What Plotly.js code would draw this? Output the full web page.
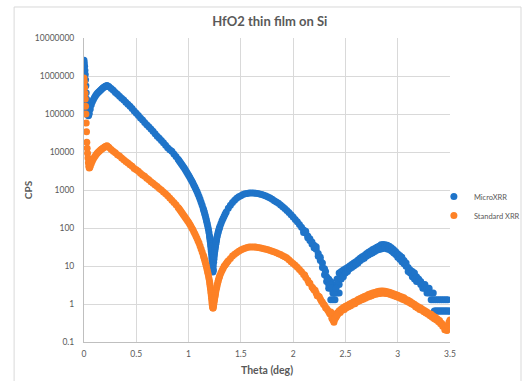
<!DOCTYPE html>
<html>
<head>
<meta charset="utf-8">
<script src="https://cdn.plot.ly/plotly-3.0.1.min.js"></script>
<style>html,body{margin:0;padding:0;background:#fff;}#chart{width:528px;height:381px;}</style>
</head>
<body>
<div id="chart"></div>
<script>
// ---- Data (theta in deg, intensity in CPS) ----
const seriesNames = ["MicroXRR", "Standard XRR"];

const microTheta = [
  0.000,0.003,0.006,0.009,0.012,0.015,0.018,0.021,0.024,0.027,0.030,0.034,0.038,0.042,0.046,0.050,
  0.06,0.07,0.08,0.09,0.10,0.11,0.12,0.13,0.14,0.15,0.16,0.17,0.18,0.19,0.20,0.21,0.22,0.23,
  0.24,0.26,0.28,0.30,0.32,0.34,0.36,0.38,0.40,0.42,0.44,0.46,0.48,0.50,0.52,0.54,0.56,0.58,0.60,0.62,0.64,0.66,0.68,0.70,0.72,0.74,0.76,0.78,0.80,0.82,0.84,0.86,0.88,
  0.90,0.91,0.92,0.93,0.94,0.95,0.96,0.97,0.98,0.99,1.00,1.01,1.02,1.03,1.04,1.05,1.06,1.07,1.08,1.09,1.10,1.11,1.12,1.13,1.14,
  1.145,1.15,1.155,1.16,1.165,1.17,1.175,1.18,1.185,1.19,1.195,1.20,
  1.2025,1.205,1.2075,1.21,1.2125,1.215,1.2175,1.22,1.2225,1.225,1.2275,1.23,1.233,1.236,1.238,1.24,
  1.2425,1.245,1.2475,1.25,1.2525,1.255,1.2575,1.26,1.2625,1.265,1.2675,1.27,1.275,1.28,1.285,1.29,1.295,1.30,
  1.31,1.32,1.33,1.34,1.35,1.36,
  1.38,1.40,1.42,1.44,1.46,1.48,1.50,1.52,1.54,1.56,1.58,1.60,1.62,1.64,1.66,1.68,1.70,1.72,1.74,1.76,1.78,1.80,1.82,1.84,1.86,1.88,1.90,1.92,1.94,1.96,1.98,2.00,2.02,2.04,2.06,2.08,
  2.10,2.10,2.12,2.12,2.14,2.14,2.16,2.16,2.18,2.18,2.20,2.20,2.22,2.22,2.24,2.24,
  2.26,2.26,2.28,2.28,2.30,2.30,2.32,2.32,2.34,2.34,2.34,2.36,2.36,2.36,2.38,2.38,2.38,2.40,2.40,2.40,2.42,2.42,2.42,2.44,2.44,2.44,
  2.31,2.33,2.35,2.37,2.39,2.41,2.43,2.45,2.47,
  2.46,2.46,2.48,2.48,2.50,2.50,2.52,2.52,2.54,2.54,2.56,2.56,2.58,2.58,2.60,2.60,2.62,2.62,2.64,2.64,
  2.66,2.66,2.68,2.68,2.70,2.70,2.72,2.72,2.74,2.74,2.76,2.76,2.78,2.78,2.80,2.80,2.82,2.82,2.84,2.84,
  2.86,2.86,2.88,2.88,2.90,2.90,2.92,2.92,2.94,2.94,2.96,2.96,2.98,2.98,3.00,3.00,3.02,3.02,3.04,3.04,
  3.06,3.06,3.08,3.08,
  3.10,3.10,3.12,3.12,3.14,3.14,3.16,3.16,3.18,3.18,3.20,3.20,3.22,3.22,3.24,3.24,3.26,3.26,3.28,3.28,
  3.30,3.30,3.32,3.32,3.34,3.34,
  3.36,3.36,3.38,3.38,3.40,3.40,3.42,3.42,3.44,3.44,3.46,3.46,3.48,3.48,3.50,
  3.35,3.37,3.39,3.41,3.43,3.45,3.47,3.49
];
const microCps = [
  2.6e6,2.2e6,1.8e6,1.4e6,1.1e6,8.0e5,5.5e5,3.6e5,2.5e5,1.8e5,1.4e5,1.15e5,9.5e4,9.0e4,9.5e4,1.05e5,
  1.35e5,1.75e5,2.1e5,2.4e5,2.7e5,3.0e5,3.3e5,3.55e5,3.8e5,4.05e5,4.3e5,4.55e5,4.8e5,5.05e5,5.3e5,5.45e5,5.6e5,5.4e5,
  5.25e5,4.7e5,4.2e5,3.7e5,3.3e5,2.95e5,2.6e5,2.35e5,2.05e5,1.8e5,1.6e5,1.4e5,1.2e5,1.05e5,9.1e4,7.9e4,6.9e4,6.0e4,5.2e4,4.6e4,4.0e4,3.5e4,3.0e4,2.6e4,2.3e4,2.0e4,1.74e4,1.5e4,1.3e4,1.15e4,1.05e4,8900,7600,
  6460,5890,5370,4900,4470,4070,3720,3350,3020,2720,2450,2190,1950,1740,1550,1360,1200,1050,912,785,676,569,479,398,324,
  292,263,234,209,184,162,141,123,106,91,76,63,
  56,50,44,38,33,28,24,20,16.6,14.1,11.2,8.9,6.9,10,7.9,12.6,
  15.1,17.8,20.9,24,26.9,30.2,33.5,37.2,41.2,45.7,50,55,63,72,81,91,100,112,
  132,155,178,204,234,263,
  331,398,468,537,603,661,708,759,794,813,832,832,832,822,804,785,759,724,692,653,617,569,525,484,447,403,363,324,288,254,224,195,168,145,123,105,
  88,76,74,82,62,55,52,47,43,38,35,30,27.5,32,21.4,18,
  17,14,12,9.1,8.5,5.85,5.2,3.9,4.55,3.25,2.6,3.9,2.6,1.3,3.25,1.95,1.3,2.6,1.95,1.3,4.55,3.25,1.95,6.5,3.25,1.95,
  7.2,4.55,3.25,2.6,1.95,2.6,3.9,5.2,5.85,
  7.2,4.55,7.8,5.2,8.5,6.5,9.1,7.2,10,8.5,11,9.1,12,10,13,11,14.3,12,16,13.7,
  17.5,15,19,16,21,18,23,19.5,25,21,27,22,29,24,31,26,33,27,36,28,
  37,29,36,30,35,28,33,27,30,25,27,22,24,20,21,17,19,15,17,13,
  14,11.5,12,9.8,
  9.1,7.2,7.8,6.5,7.2,5.2,6.5,4.55,5.2,3.9,4.55,3.9,3.9,3.25,3.25,2.6,3.25,2.6,2.6,1.95,
  2.6,1.95,1.95,1.3,1.95,1.3,
  1.3,0.65,1.3,0.65,1.3,0.65,1.3,0.65,1.3,0.65,1.3,0.65,1.3,0.65,0.65,
  0.65,0.65,0.65,0.65,0.65,0.65,0.65,0.65
];

const standardTheta = [
  0.000,0.003,0.006,0.009,0.012,0.015,0.018,0.021,0.024,0.027,0.030,0.034,0.038,0.042,0.046,0.050,0.055,
  0.06,0.07,0.08,0.09,0.10,0.11,0.12,0.13,0.14,0.15,0.16,0.17,0.18,0.19,0.20,0.21,0.22,0.23,
  0.24,0.26,0.28,0.30,0.32,0.34,0.36,0.38,0.40,0.42,0.44,0.46,0.48,0.50,0.52,0.54,0.56,0.58,0.60,0.62,0.64,0.66,0.68,0.70,0.72,0.74,0.76,0.78,0.80,0.82,0.84,0.86,0.88,
  0.90,0.91,0.92,0.93,0.94,0.95,0.96,0.97,0.98,0.99,1.00,1.01,1.02,1.03,1.04,1.05,1.06,1.07,1.08,1.09,1.10,1.11,1.12,1.13,1.14,
  1.145,1.15,1.155,1.16,1.165,1.17,1.175,1.18,1.185,1.19,1.195,1.20,
  1.2025,1.205,1.2075,1.21,1.2125,1.215,1.2175,1.22,1.2225,1.225,1.2275,1.23,1.2325,1.235,1.2375,1.24,
  1.2425,1.245,1.2475,1.25,1.2525,1.255,1.2575,1.26,1.265,1.27,1.275,1.28,1.285,1.29,1.295,1.30,
  1.31,1.32,1.33,1.34,1.35,1.36,1.37,
  1.38,1.40,1.42,1.44,1.46,1.48,1.50,1.52,1.54,1.56,1.58,1.60,1.62,1.64,1.66,1.68,1.70,1.72,1.74,1.76,1.78,1.80,1.82,1.84,1.86,1.88,1.90,1.92,1.94,1.96,1.98,2.00,2.02,2.04,2.06,2.08,2.10,2.12,2.14,2.16,2.18,2.20,2.22,2.24,2.26,2.28,
  2.11,2.15,2.19,2.21,2.23,2.25,2.27,2.29,
  2.30,2.31,2.32,2.33,2.34,2.35,2.36,2.37,2.38,2.39,2.40,2.41,2.42,2.43,2.44,2.45,2.46,2.47,2.48,2.49,2.50,2.51,2.52,2.53,2.54,2.55,2.56,2.57,2.58,2.59,
  2.36,2.38,2.40,2.42,
  2.60,2.61,2.62,2.63,2.64,2.65,2.66,2.67,2.68,2.69,2.70,2.71,2.72,2.73,2.74,2.75,2.76,2.77,2.78,2.79,
  2.80,2.81,2.82,2.83,2.84,2.85,2.86,2.87,2.88,2.89,2.90,2.91,2.92,2.93,2.94,2.95,2.96,2.97,2.98,2.99,
  3.00,3.01,3.02,3.03,3.04,3.05,3.06,3.07,3.08,3.09,3.10,3.11,3.12,3.13,3.14,3.15,3.16,3.17,3.18,3.19,
  3.20,3.21,3.22,3.23,3.24,3.25,3.26,3.27,3.28,3.29,3.30,3.31,3.32,3.33,3.34,3.35,3.36,3.37,3.38,3.39,
  3.40,3.41,3.42,3.43,3.44,3.45,3.46,3.47,3.48,3.49,3.50
];
const standardCps = [
  8.9e5,7.1e5,5.0e5,3.5e5,2.5e5,1.6e5,1.0e5,5.8e4,3.4e4,1.8e4,1.26e4,9300,6900,5200,4200,3800,3900,
  4300,5000,5800,6600,7400,8100,8900,9500,1.02e4,1.08e4,1.15e4,1.2e4,1.26e4,1.32e4,1.38e4,1.42e4,1.45e4,1.38e4,
  1.32e4,1.17e4,1.05e4,9500,8500,7800,6900,6300,5600,5100,4600,4200,3700,3400,3100,2750,2500,2300,2050,1860,1660,1500,1350,1230,1100,1000,890,795,710,615,540,470,410,
  347,320,295,269,245,224,204,186,170,155,141,127,115,102,91,80,71,62,54,46,40,33.5,28.2,23.4,19.5,
  17.6,15.8,14.1,12.6,11.1,9.8,8.5,7.4,6.4,5.5,4.7,4.0,
  3.55,3.16,2.82,2.51,2.19,1.91,1.64,1.41,1.22,1.05,0.93,0.83,0.79,0.79,0.87,0.95,
  1.07,1.2,1.32,1.45,1.58,1.74,1.91,2.09,2.43,2.82,3.24,3.72,4.22,4.79,5.25,5.75,
  6.6,7.6,8.6,9.8,10.7,11.7,12.7,
  13.8,15.8,18.2,20.4,22.4,24.5,26.3,28.2,29.5,30.9,31.6,31.6,31.6,31.6,30.9,30.2,29.5,28.5,27.5,26.6,25.7,24.5,23.4,22.4,21.1,20,18.6,17.4,16.2,14.5,13,11.7,10.5,9.3,8.1,7.1,6.0,5.0,4.2,3.5,2.8,2.35,1.95,1.62,1.35,1.12,
  5.8,3.6,2.6,2.3,1.65,1.55,1.2,0.98,
  0.93,0.8,0.76,0.7,0.63,0.55,0.54,0.42,0.47,0.33,0.5,0.45,0.58,0.55,0.66,0.6,0.74,0.68,0.81,0.72,0.87,0.8,0.93,0.85,1.0,0.9,1.07,0.98,1.15,1.02,
  0.62,0.38,0.4,0.5,
  1.2,1.13,1.32,1.2,1.4,1.27,1.48,1.33,1.58,1.41,1.66,1.5,1.78,1.58,1.86,1.66,1.95,1.74,2.0,1.8,
  2.1,1.86,2.15,1.9,2.2,1.95,2.2,1.92,2.15,1.9,2.1,1.85,2.05,1.78,1.95,1.7,1.86,1.62,1.78,1.55,
  1.7,1.48,1.6,1.4,1.52,1.32,1.45,1.25,1.32,1.17,1.26,1.1,1.17,1.02,1.07,0.95,0.98,0.85,0.9,0.78,
  0.83,0.72,0.78,0.68,0.72,0.63,0.66,0.58,0.62,0.54,0.56,0.49,0.54,0.45,0.48,0.41,0.45,0.38,0.4,0.34,
  0.37,0.3,0.31,0.26,0.27,0.21,0.22,0.2,0.27,0.33,0.38
];

const xTickVals = [0, 0.5, 1, 1.5, 2, 2.5, 3, 3.5];
const xTickText = ["0", "0.5", "1", "1.5", "2", "2.5", "3", "3.5"];
const yTickVals = [0.1, 1, 10, 100, 1000, 10000, 100000, 1000000, 10000000];
const yTickText = ["0.1", "1", "10", "100", "1000", "10000", "100000", "1000000", "10000000"];

const FONT = "Lato, 'Open Sans', 'DejaVu Sans', sans-serif";
const TXT = "#595959";

const traces = [
  {x: microTheta, y: microCps, name: seriesNames[0], type: "scatter", mode: "markers",
   marker: {color: "#1f74c9", size: 7, line: {width: 0}}},
  {x: standardTheta, y: standardCps, name: seriesNames[1], type: "scatter", mode: "markers",
   marker: {color: "#fd8126", size: 7, line: {width: 0}}}
];

const layout = {
  width: 528, height: 381,
  margin: {l: 84, r: 78, t: 38, b: 39, pad: 0, autoexpand: false},
  paper_bgcolor: "#ffffff", plot_bgcolor: "#ffffff",
  font: {family: FONT, color: TXT, size: 9},
  title: {text: "<b>HfO2 thin film on Si</b>", font: {family: FONT, size: 13, color: TXT},
          xref: "container", x: 0.511, xanchor: "center", yref: "container", y: 0.945, yanchor: "middle"},
  xaxis: {
    range: [0, 3.5], tickvals: xTickVals, ticktext: xTickText, ticks: "",
    showgrid: true, gridcolor: "#d9d9d9", gridwidth: 1,
    showline: true, linecolor: "#bfbfbf", linewidth: 1, zeroline: false,
    tickfont: {family: FONT, size: 8.5, color: TXT}, ticklabelstandoff: 4,
    title: {text: "<b>Theta (deg)</b>", font: {family: FONT, size: 10.5, color: TXT}, standoff: 8}
  },
  yaxis: {
    type: "log", range: [-1, 7], tickvals: yTickVals, ticktext: yTickText, ticks: "",
    showgrid: true, gridcolor: "#d9d9d9", gridwidth: 1,
    showline: true, linecolor: "#bfbfbf", linewidth: 1, zeroline: false,
    tickfont: {family: FONT, size: 8.5, color: TXT}, ticklabelstandoff: 7,
    title: {text: "<b>CPS</b>", font: {family: FONT, size: 10, color: TXT}, standoff: 0}
  },
  showlegend: true,
  legend: {x: 0.956, xanchor: "left", y: 0.447, yanchor: "middle", bgcolor: "rgba(0,0,0,0)",
           font: {family: FONT, size: 7.5, color: TXT}, itemwidth: 30, tracegroupgap: 0},
  shapes: [
    {type: "rect", xref: "paper", yref: "paper", x0: -0.191, x1: 1.194, y0: -0.2, y1: 1.102,
     line: {color: "#d9d9d9", width: 1}, fillcolor: "rgba(0,0,0,0)", layer: "below"}
  ]
};

Plotly.newPlot("chart", traces, layout, {staticPlot: true, displayModeBar: false});
</script>
</body>
</html>
